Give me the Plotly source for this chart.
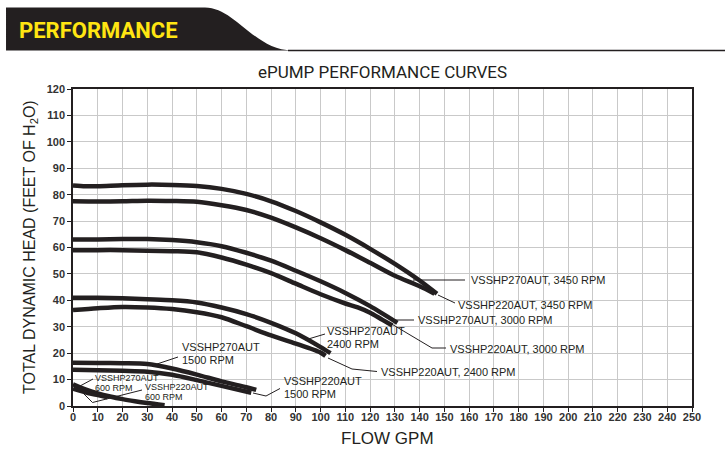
import plotly.graph_objects as go

# ---------------- data (GPM vs feet of head) ----------------
x_270_3450 = [0, 5, 10, 20, 30, 40, 50, 60, 70, 80, 90, 100, 110, 120, 130, 140, 147]
y_270_3450 = [83.5, 83.2, 83.2, 83.6, 83.8, 83.7, 83.3, 82.2, 80.3, 77.5, 73.8, 69.5, 64.8, 59.5, 53.8, 47.5, 42.5]

x_220_3450 = [0, 10, 20, 30, 40, 50, 60, 70, 80, 90, 100, 110, 120, 130, 140, 146]
y_220_3450 = [77.5, 77.4, 77.5, 77.7, 77.6, 77.3, 76.0, 74.2, 71.3, 67.6, 63.5, 59.0, 54.2, 49.3, 45.3, 42.5]

x_270_3000 = [0, 10, 20, 30, 40, 50, 60, 70, 80, 90, 100, 110, 120, 131]
y_270_3000 = [63, 63, 63.2, 63.2, 62.8, 62, 60.5, 58, 55.0, 51.2, 47.2, 42.8, 37.8, 31.5]

x_220_3000 = [0, 10, 20, 30, 40, 50, 60, 70, 80, 90, 100, 110, 115, 120, 125, 129]
y_220_3000 = [59, 59, 59, 58.8, 58.6, 58.2, 56.2, 53.5, 50.3, 46.3, 42.3, 38.8, 37.3, 35.3, 32.6, 30.5]

x_270_2400 = [0, 10, 20, 30, 40, 50, 60, 70, 80, 90, 100, 104]
y_270_2400 = [41, 41, 40.8, 40.4, 40, 39.2, 37.3, 34.8, 31.5, 27.5, 22.3, 20]

x_220_2400 = [0, 10, 20, 30, 40, 50, 60, 70, 80, 90, 100, 102]
y_220_2400 = [36.3, 37, 37.5, 37.3, 36.7, 35.5, 33.6, 30.2, 26.7, 23.6, 20.2, 19]

x_270_1500 = [0, 10, 20, 30, 40, 50, 60, 70, 74]
y_270_1500 = [16.4, 16.3, 16.2, 15.9, 14.2, 11.9, 9.3, 7.1, 6.1]

x_220_1500 = [0, 10, 20, 30, 40, 50, 60, 72]
y_220_1500 = [13.7, 13.5, 13.3, 13, 11.8, 9.8, 7.6, 5]

x_270_600 = [0, 5, 10, 15, 20, 25, 30, 37]
y_270_600 = [8.2, 6.3, 4.8, 3.6, 2.6, 1.8, 1.1, 0.3]

x_220_600 = [0, 3, 6, 10, 14]
y_220_600 = [6.6, 5.7, 4.9, 4.1, 3.3]

x_ticks = list(range(0, 251, 10))
y_ticks = list(range(0, 121, 10))

series = [
    (x_270_3450, y_270_3450), (x_220_3450, y_220_3450),
    (x_270_3000, y_270_3000), (x_220_3000, y_220_3000),
    (x_270_2400, y_270_2400), (x_220_2400, y_220_2400),
    (x_270_1500, y_270_1500), (x_220_1500, y_220_1500),
    (x_270_600, y_270_600), (x_220_600, y_220_600),
]

# ---------------- layout geometry (pixels) ----------------
W, H = 725, 460
L, R, T, B = 73, 692, 89, 406


def dx(px):
    return (px - L) / (R - L) * 250


def dy(py):
    return (B - py) / (B - T) * 120


def sx(px):
    return (px - L) / (R - L)


def sy(py):
    return (B - py) / (B - T)


INK = "#231f20"
fig = go.Figure()
for xs, ys in series:
    fig.add_trace(go.Scatter(x=xs, y=ys, mode="lines", line=dict(color=INK, width=4.5, shape="spline", smoothing=0.8),
                             cliponaxis=False, showlegend=False, hoverinfo="skip"))

shapes = []
annotations = []

# leader lines (pixel coordinates converted to data)
leaders = [
    [(413, 280), (465, 280)],
    [(438, 295), (455, 303)],
    [(395, 320), (414, 320)],
    [(390, 323), (432, 348), (446, 348)],
    [(305, 340), (325, 334)],
    [(328, 358), (352, 369), (377, 371.5)],
    [(157, 364), (178, 357)],
    [(253, 393), (266, 396), (280, 388.5)],
    [(80, 386), (93, 379)],
    [(83, 393), (92.5, 402.5), (142, 390)],
]
for pts in leaders:
    path = "M " + " L ".join(f"{dx(px):.3f},{dy(py):.3f}" for px, py in pts)
    shapes.append(dict(type="path", xref="x", yref="y", path=path, line=dict(color=INK, width=1)))

labels = [
    ("VSSHP270AUT, 3450 RPM", 469, 280, 11),
    ("VSSHP220AUT, 3450 RPM", 456, 305, 11),
    ("VSSHP270AUT, 3000 RPM", 416, 320, 11),
    ("VSSHP220AUT, 3000 RPM", 448, 349, 11),
    ("VSSHP270AUT", 325, 331, 11),
    ("2400 RPM", 325, 343.5, 11),
    ("VSSHP220AUT, 2400 RPM", 379, 372, 11),
    ("VSSHP270AUT", 180, 347, 11),
    ("1500 RPM", 180, 359.5, 11),
    ("VSSHP220AUT", 282, 381, 11),
    ("1500 RPM", 282, 393.5, 11),
    ("VSSHP270AUT", 93, 378, 9),
    ("600 RPM", 93, 388, 9),
    ("VSSHP220AUT", 143, 387, 9),
    ("600 RPM", 143, 397, 9),
]
for txt, px, py, fs in labels:
    annotations.append(dict(text=txt, x=dx(px), y=dy(py), xref="x", yref="y", xanchor="left", yanchor="middle",
                            showarrow=False, font=dict(family="Liberation Sans, Arial", size=fs, color=INK)))

# header banner
shapes.append(dict(type="path", xref="paper", yref="paper", layer="above",
                   path=(f"M {sx(6):.4f},{sy(7.5):.4f} L {sx(205):.4f},{sy(7.5):.4f} "
                         f"C {sx(235):.4f},{sy(7.5):.4f} {sx(255):.4f},{sy(50.5):.4f} {sx(292):.4f},{sy(50.5):.4f} "
                         f"L {sx(6):.4f},{sy(50.5):.4f} Z"),
                   fillcolor=INK, line=dict(width=0)))
shapes.append(dict(type="line", xref="paper", yref="paper", x0=sx(288), x1=sx(725), y0=sy(50.5), y1=sy(50.5),
                   line=dict(color=INK, width=1.5)))
annotations.append(dict(text="<b>PERFORMANCE</b>", x=sx(17), y=sy(30), xref="paper", yref="paper",
                        xanchor="left", yanchor="middle", showarrow=False,
                        font=dict(family="Roboto", size=22, color="#ffe512")))
annotations.append(dict(text="ePUMP PERFORMANCE CURVES", x=sx(382), y=sy(72), xref="paper", yref="paper",
                        xanchor="center", yanchor="middle", showarrow=False,
                        font=dict(family="Roboto", size=17, color=INK)))
annotations.append(dict(text="TOTAL DYNAMIC HEAD (FEET OF H<sub>2</sub>O)", x=sx(30), y=sy(247), xref="paper",
                        yref="paper", xanchor="center", yanchor="middle", textangle=-90, showarrow=False,
                        font=dict(family="Liberation Sans, Arial", size=16, color=INK)))
annotations.append(dict(text="FLOW GPM", x=sx(387), y=sy(438), xref="paper", yref="paper",
                        xanchor="center", yanchor="middle", showarrow=False,
                        font=dict(family="Liberation Sans, Arial", size=17, color=INK)))

axis_common = dict(showgrid=True, gridcolor="#c9c9c9", gridwidth=1, zeroline=False, showline=True,
                   linecolor=INK, linewidth=1.5, mirror=True, ticks="outside", ticklen=4, tickcolor=INK,
                   tickfont=dict(family="Liberation Sans, Arial", size=11, color="#333333", weight="bold"))

fig.update_layout(
    width=W, height=H, margin=dict(l=L, r=W - R, t=T, b=H - B, pad=0),
    paper_bgcolor="white", plot_bgcolor="white", showlegend=False,
    xaxis=dict(range=[0, 250], tickvals=x_ticks, ticktext=[str(v) for v in x_ticks],
               ticklabelstandoff=-4, **axis_common),
    yaxis=dict(range=[0, 120], tickvals=y_ticks, ticktext=[str(v) for v in y_ticks], **axis_common),
    shapes=shapes, annotations=annotations,
)

fig.write_html("out.html")
